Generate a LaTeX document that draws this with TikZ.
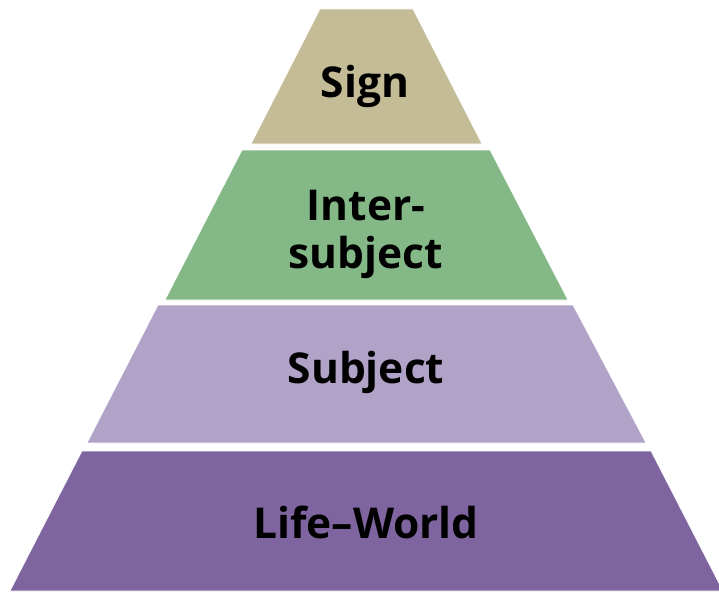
\documentclass[tikz,border=0pt]{standalone}
\usepackage{fontspec}
\setmainfont{Open Sans}
\definecolor{signc}{HTML}{C4BC96}
\definecolor{interc}{HTML}{84B887}
\definecolor{subjc}{HTML}{B1A2C8}
\definecolor{lifec}{HTML}{7F65A0}
\begin{document}
\begin{tikzpicture}[x=1pt,y=-1pt,
  layer/.style={draw=white,line width=0.6pt},
  lbl/.style={font=\fontsize{42.5}{48}\selectfont\bfseries,text=black,inner sep=0pt,anchor=base,align=center}]
\useasboundingbox (0,0) rectangle (719,591);
\clip (0,0) rectangle (719,591);
\fill[signc,layer] (320,9) -- (413,9) -- (482,144) -- (251,144) -- cycle;
\fill[interc,layer] (242,150) -- (490,150) -- (568,300) -- (165,300) -- cycle;
\fill[subjc,layer] (158,305) -- (573,305) -- (646,443) -- (87,443) -- cycle;
\fill[lifec,layer] (82,451) -- (651,451) -- (723,591) -- (10,591) -- cycle;
\node[lbl] (sign) at (365,98) {Sign};
\node[lbl] (inter1) at (366,220) {Inter-};
\node[lbl] (inter2) at (366,268) {subject};
\node[lbl] (subj) at (366,383) {Subject};
\node[lbl] (life) at (366,538) {Life–World};
\end{tikzpicture}
\end{document}
